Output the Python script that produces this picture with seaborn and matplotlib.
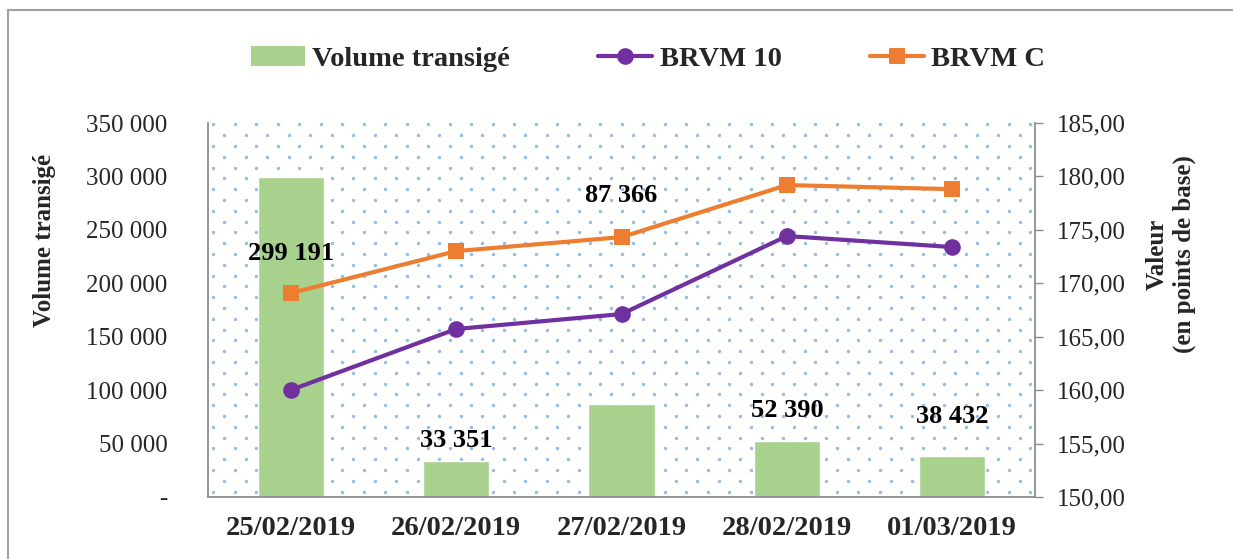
import numpy as np
import pandas as pd
import matplotlib
matplotlib.use('Agg')
import matplotlib.pyplot as plt
import seaborn as sns
from matplotlib.lines import Line2D
from matplotlib.patches import Patch

# --- data ---
dates = ['25/02/2019', '26/02/2019', '27/02/2019', '28/02/2019', '01/03/2019']
volume = [299191, 33351, 87366, 52390, 38432]
brvm10 = [160.01, 165.72, 167.12, 174.42, 173.39]
brvmc = [169.08, 173.01, 174.32, 179.19, 178.81]
# where excel left the data labels (left-axis units)
label_y = [228300, 53300, 282600, 81400, 74900]

GREEN = '#A9D18E'
PURPLE = '#7030A0'
ORANGE = '#ED7D31'
GREY = '#8c8c8c'

sns.set_theme(style='white')
plt.rcParams['font.family'] = ['Liberation Serif', 'DejaVu Serif']
plt.rcParams['axes.unicode_minus'] = False

df = pd.DataFrame({'date': dates, 'volume': volume,
                   'brvm10': brvm10, 'brvmc': brvmc})
df['pos'] = np.arange(len(df))

W, H = 1233, 559
fig = plt.figure(figsize=(W / 100, H / 100), dpi=100)
L, R, T, B = 208, 1035, 123, 497
ax = fig.add_axes([L / W, 1 - B / H, (R - L) / W, (B - T) / H])
ax2 = ax.twinx()

# dotted background pattern
dx, dy = 21.5 / (R - L), 10.8 / (B - T)
pts = []
for j, yy in enumerate(np.arange(dy / 2, 1, dy)):
    off = 0 if j % 2 == 0 else dx / 2
    for xx in np.arange(dx / 4 + off, 1, dx):
        pts.append((xx, yy))
pts = np.array(pts)
ax.scatter(pts[:, 0], pts[:, 1], s=6, color='#7fb2e0', alpha=0.85,
           linewidths=0, transform=ax.transAxes, zorder=0, clip_on=True)

# bars
sns.barplot(data=df, x='date', y='volume', ax=ax, color=GREEN,
            width=0.4, saturation=1, zorder=2)
for p, v, ly in zip(df['pos'], df['volume'], label_y):
    ax.text(p, ly, f'{v:,}'.replace(',', ' '), ha='center', va='center',
            fontsize=19, fontweight='bold', color='black', zorder=5)

# lines on the secondary axis
sns.lineplot(data=df, x='pos', y='brvm10', ax=ax2, color=PURPLE, lw=3,
             marker='o', markersize=12, markeredgewidth=0, zorder=3)
sns.lineplot(data=df, x='pos', y='brvmc', ax=ax2, color=ORANGE, lw=3,
             marker='s', markersize=12, markeredgewidth=0, zorder=3)

ax.set_xlim(-0.5, len(df) - 0.5)
ax.set_ylim(0, 350000)
ax.set_yticks(np.arange(0, 350001, 50000))
ax.set_yticklabels(['-'] + [f'{v:,}'.replace(',', ' ') for v in range(50000, 350001, 50000)])
ax2.set_ylim(150, 185)
ax2.set_yticks(np.arange(150, 185.1, 5))
ax2.set_yticklabels([f'{v:.2f}'.replace('.', ',') for v in np.arange(150, 185.1, 5)])

ax.set_xlabel('')
ax.set_xticks(df['pos'])
ax.set_xticklabels(dates, fontsize=20.5, fontweight='bold')
ax.tick_params(axis='x', length=0, pad=14)
ax.tick_params(axis='y', length=0, pad=29, labelsize=18)
ax2.tick_params(axis='y', length=6, width=1, color=GREY, pad=10, labelsize=18,
                direction='out', right=True)

ax.set_ylabel('Volume transigé', fontsize=18, fontweight='bold')
ax.yaxis.set_label_coords((56 - L) / (R - L), (B - 240) / (B - T))
ax2.set_ylabel('Valeur\n(en points de base)', fontsize=18, fontweight='bold',
               rotation=90, linespacing=1.2)
ax2.yaxis.set_label_coords((1146 - L) / (R - L), (B - 254) / (B - T))

for a in (ax, ax2):
    for s in a.spines.values():
        s.set_visible(False)
    a.grid(False)
ax.spines['left'].set_visible(True)
ax.spines['bottom'].set_visible(True)
ax2.spines['right'].set_visible(True)
for s in (ax.spines['left'], ax.spines['bottom'], ax2.spines['right']):
    s.set_color(GREY)
    s.set_linewidth(1.3)
ax.patch.set_visible(False)
ax2.patch.set_visible(False)
# bars & dots behind the lines
ax.set_zorder(1)
ax2.set_zorder(2)

handles = [Patch(facecolor=GREEN, edgecolor='none', label='Volume transigé'),
           Line2D([], [], color=PURPLE, lw=3, marker='o', markersize=12,
                  markeredgewidth=0, label='BRVM 10'),
           Line2D([], [], color=ORANGE, lw=3, marker='s', markersize=12,
                  markeredgewidth=0, label='BRVM C')]
fig.legend(handles=handles, loc='center', bbox_to_anchor=(648 / W, 1 - 59 / H),
           ncol=3, frameon=False, handlelength=1.9, handletextpad=0.25,
           columnspacing=3.1, prop={'weight': 'bold', 'size': 20.5})

# outer frame (left and top edges visible)
fig.add_artist(Line2D([8 / W, 8 / W], [0, 1 - 10 / H], transform=fig.transFigure,
                      color='#a0a0a0', lw=1.5))
fig.add_artist(Line2D([8 / W, 1], [1 - 10 / H, 1 - 10 / H], transform=fig.transFigure,
                      color='#a0a0a0', lw=1.5))

fig.savefig('out.png', dpi=100)
